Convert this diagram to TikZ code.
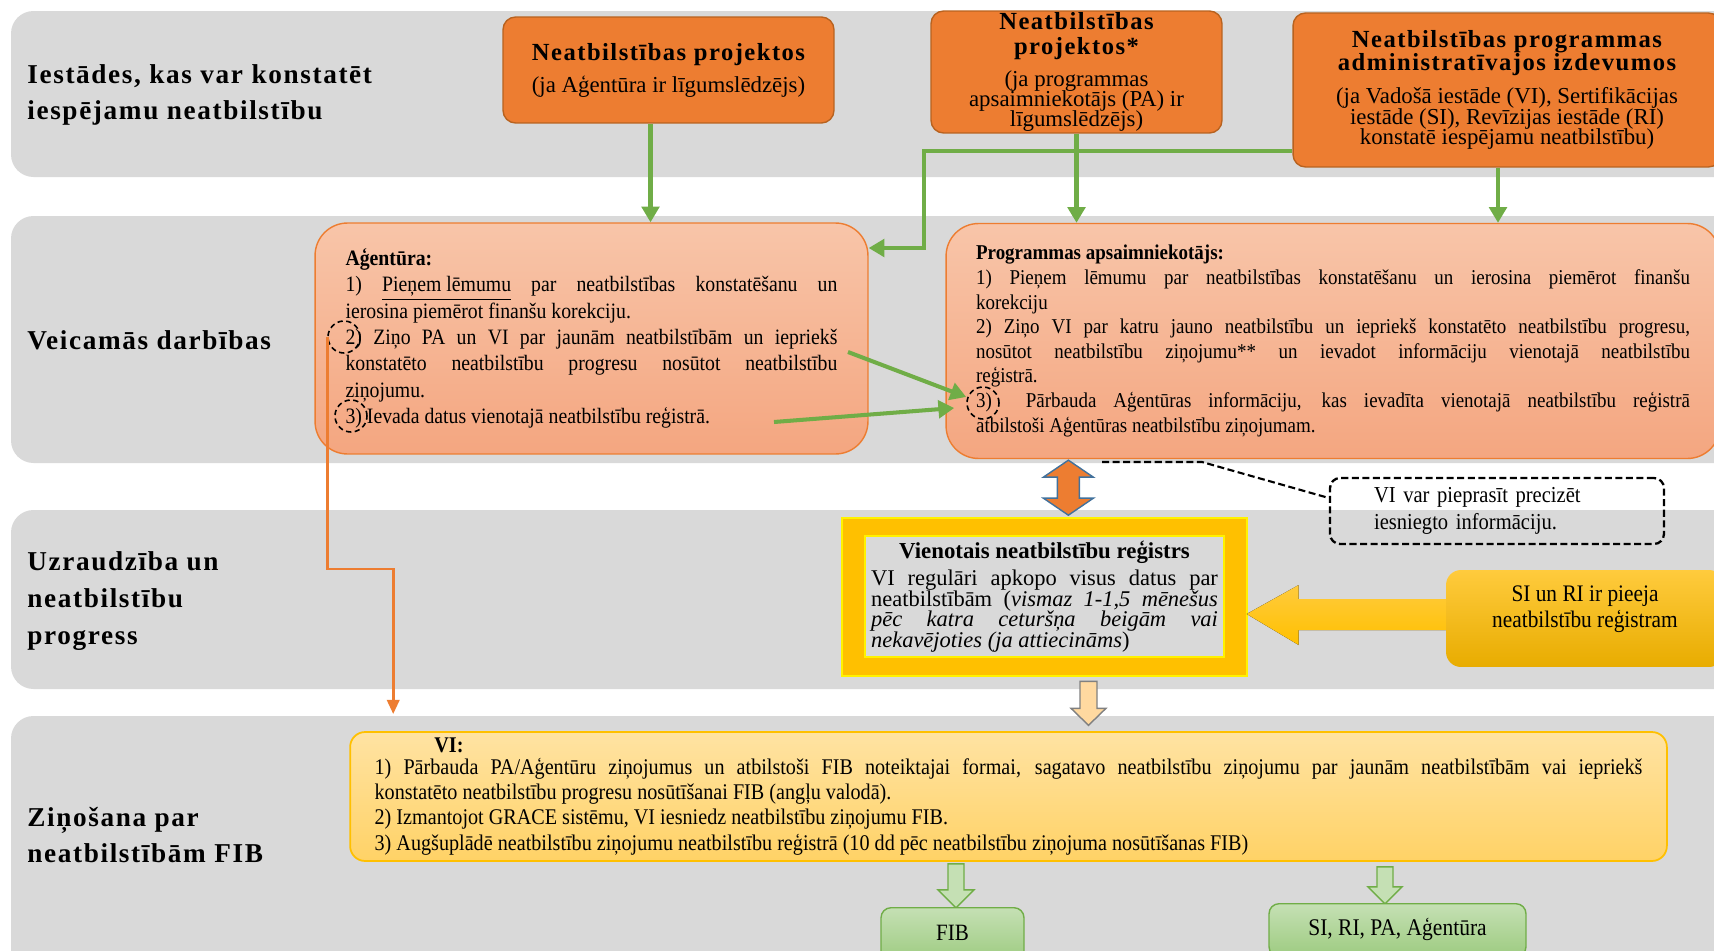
\documentclass[tikz,border=0pt]{standalone}
\usepackage{fontspec}
\setmainfont{Liberation Serif}
\newfontfamily\condfont[FakeStretch=0.9]{Liberation Serif}
\newfontfamily\widefont[LetterSpace=6]{Liberation Serif}
\usetikzlibrary{arrows.meta,calc}
\definecolor{lanegray}{HTML}{D9D9D9}
\definecolor{orng}{HTML}{ED7D31}
\definecolor{orngline}{HTML}{B8621F}
\definecolor{salmtop}{HTML}{F8C5A9}
\definecolor{salmbot}{HTML}{F4A680}
\definecolor{grn}{HTML}{70AD47}
\definecolor{grntop}{HTML}{C5E0B4}
\definecolor{grnbot}{HTML}{9DCB80}
\definecolor{gold}{HTML}{FFC000}
\definecolor{goldtop}{HTML}{FFCB3D}
\definecolor{goldbot}{HTML}{E8AC00}
\definecolor{vitop}{HTML}{FFE3A3}
\definecolor{vibot}{HTML}{FFD266}
\definecolor{paleor}{HTML}{FFD9A0}
\definecolor{blu}{HTML}{41719C}
\hyphenpenalty=10000
\exhyphenpenalty=10000
\tolerance=9999
\lineskiplimit=-20pt

\begin{document}
\begin{tikzpicture}[x=0.02cm,y=-0.02cm,
  lane/.style={fill=lanegray,rounded corners=0.45cm},
  lanelbl/.style={anchor=west,align=left,inner sep=0pt,font=\widefont\bfseries\fontsize{15.5}{21}\selectfont},
  srcbox/.style={fill=orng,draw=orngline,line width=0.8pt,rounded corners=0.25cm,align=center,inner sep=0pt,font=\fontsize{13}{11.5}\selectfont},
  actbox/.style={draw=orng,line width=0.8pt,top color=salmtop,bottom color=salmbot,rounded corners=0.65cm,inner sep=0pt,align=justify},
  garrow/.style={draw=grn,line width=2.3pt,-{Triangle[length=9pt,width=10pt]}},
  ring/.style={circle,draw,dash pattern=on 3pt off 2pt,line width=0.9pt,minimum size=0.64cm,inner sep=0pt},
  barrow/.style={line width=0.8pt,line join=miter}]
\useasboundingbox (0,0) rectangle (1714,950);
\clip (0,0) rectangle (1714,950);
% lanes
\fill[lane] (11,11) rectangle (1760,177);
\fill[lane] (11,216) rectangle (1760,463);
\fill[lane] (11,510) rectangle (1760,689);
\fill[lane] (11,716) rectangle (1760,990);
\node[lanelbl] (l1) at (27,95) {Iestādes, kas var konstatēt\\iespējamu neatbilstību};
\node[lanelbl] (l2) at (27,340) {Veicamās darbības};
\node[lanelbl] (l3) at (27,601) {Uzraudzība un\\neatbilstību\\progress};
\node[lanelbl] (l4) at (27,835) {Ziņošana par\\neatbilstībām FIB};
% sources
\node[srcbox,minimum width=6.62cm,minimum height=2.12cm] (a) at (668.5,70) {{\widefont\bfseries\fontsize{14}{14}\selectfont Neatbilstības projektos}\\[6.7pt]
  (ja Aģentūra ir līgumslēdzējs)};
\node[srcbox,minimum width=5.82cm,minimum height=2.44cm] (b) at (1076.5,72) {{\widefont\bfseries\fontsize{14}{14}\selectfont Neatbilstības}\\[2.7pt]
  {\widefont\bfseries\fontsize{14}{14}\selectfont projektos*}\\[6.7pt]
  (ja programmas\\apsaimniekotājs (PA) ir\\līgumslēdzējs)};
\node[srcbox,minimum width=8.56cm,minimum height=3.08cm] (c) at (1507,90) {{\widefont\bfseries\fontsize{14}{14}\selectfont Neatbilstības programmas}\\[1.5pt]
  {\widefont\bfseries\fontsize{14}{14}\selectfont administratīvajos izdevumos}\\[7.3pt]
  (ja Vadošā iestāde (VI), Sertifikācijas\\iestāde (SI), Revīzijas iestāde (RI)\\konstatē iespējamu neatbilstību)};
% actions
\node[actbox,minimum width=11.06cm,minimum height=4.62cm,text width=9.84cm,font=\condfont\fontsize{12.5}{15}\selectfont] (agt) at (591.5,338.5) {\textbf{Aģentūra:}\\
  1) \underline{Pieņem lēmumu} par neatbilstības konstatēšanu un\linebreak ierosina piemērot finanšu korekciju.\\
  2) Ziņo PA un VI par jaunām neatbilstībām un iepriekš\linebreak konstatēto neatbilstību progresu nosūtot neatbilstību\linebreak ziņojumu.\\
  3) Ievada datus vienotajā neatbilstību reģistrā.};
\node[actbox,minimum width=15.48cm,minimum height=4.7cm,text width=14.28cm,font=\condfont\fontsize{12}{14}\selectfont] (prog) at (1333,341) {\textbf{Programmas apsaimniekotājs:}\\
  1) Pieņem lēmumu par neatbilstības konstatēšanu un ierosina piemērot finanšu\linebreak korekciju\\
  2) Ziņo VI par katru jauno neatbilstību un iepriekš konstatēto neatbilstību progresu,\linebreak nosūtot neatbilstību ziņojumu** un ievadot informāciju vienotajā neatbilstību\linebreak reģistrā.\\
  3) \ Pārbauda Aģentūras informāciju, kas ievadīta vienotajā neatbilstību reģistrā\linebreak atbilstoši Aģentūras neatbilstību ziņojumam.};
\node[ring] (c2) at (344,337) {};
\node[ring] (c3) at (351,416) {};
\node[ring] (p3) at (983,403) {};
% connectors from sources
\draw[garrow] ($(a.south)+(-18,0)$) coordinate (a1) -- (a1 |- agt.north);
\draw[garrow] (b.south) -- (b.south |- prog.north);
\draw[garrow] ($(c.south)+(-9,0)$) coordinate (c1) -- (c1 |- prog.north);
\draw[garrow] ($(c.west)+(0,61)$) -- ++(-368,0) |- ($(agt.east)+(0,-90.5)$);
\coordinate (s1) at (848,352);
\coordinate (s2) at (774,422);
\draw[garrow] (s1) -- ($(p3.west)+(0,-6)$);
\draw[garrow] (s2) -- ($(p3.west)+(-12,5)$);
\draw[draw=orng,line width=1.5pt,-{Triangle[length=8pt,width=7pt]}] (c2.west) -- ++(0,232) -| ($(c2.west)+(66,377)$);
% monitoring
\node[draw,dash pattern=on 4pt off 2pt,line width=1.3pt,rounded corners=0.2cm,minimum height=1.32cm,text width=4.92cm,inner xsep=0.88cm,inner ysep=0pt,align=left,font=\condfont\fontsize{13}{15}\selectfont] (note) at (1497,511) {VI var pieprasīt precizēt\\iesniegto informāciju.};
\coordinate (d0) at (1102,462);
\draw[dash pattern=on 4pt off 2pt,line width=1.2pt] (d0) -- ++(100,0) -- ($(note.west)+(0,-13)$);
\node[fill=gold,draw=yellow,line width=1.5pt,minimum width=8.1cm,minimum height=3.16cm] (reg) at (1044.5,597) {};
\node[fill=lanegray,draw=yellow,line width=1.2pt,minimum width=7.18cm,minimum height=2.42cm,text width=6.94cm,align=justify,inner sep=0pt,font=\fontsize{12.8}{11.8}\selectfont] (regtxt) at (1044.5,596.5) {{\centering\bfseries\fontsize{13}{12}\selectfont Vienotais neatbilstību reģistrs\par}\vspace{3.6pt}
  VI regulāri apkopo visus datus par\linebreak neatbilstībām (\textit{vismaz 1-1,5 mēnešus}\linebreak \textit{pēc katra ceturšņa beigām vai}\linebreak \textit{nekavējoties (ja attiecināms})};
\draw[barrow,fill=orng,draw=blu] ($(prog.south west)+(123,1)$) -- ++(25,17) -- ++(-14,0) -- ++(0,21) -- ++(14,0) -- ++(-25,17) -- ++(-25,-17) -- ++(14,0) -- ++(0,-21) -- ++(-14,0) -- cycle;
\node[minimum width=5.56cm,minimum height=1.94cm] (si) at (1585,618.5) {};
\fill[top color=goldtop,bottom color=gold] ($(si.west)+(14,-19.5)$) -- ++(-161,0) -- ++(0,-14) -- ++(-52,29) -- ++(52,31) -- ++(0,-15) -- ++(161,0) -- cycle;
\node[top color=goldtop,bottom color=goldbot,rounded corners=0.3cm,minimum width=5.56cm,minimum height=1.94cm,align=center,font=\condfont\fontsize{13.5}{14.8}\selectfont] (si) at (1585,618.5) {SI un RI ir pieeja\\neatbilstību reģistram\\[-1pt]\mbox{}};
\draw[barrow,fill=paleor,draw=gray] ($(reg.south)+(35.5,4)$) -- ++(17,0) -- ++(0,27) -- ++(9,0) -- ++(-17.5,17) -- ++(-17.5,-17) -- ++(9,0) -- cycle;
% reporting
\node[draw=gold,line width=1pt,top color=vitop,bottom color=vibot,rounded corners=0.3cm,minimum width=26.34cm,minimum height=2.58cm,text width=25.36cm,align=justify,inner sep=0pt,font=\condfont\fontsize{12.75}{14.4}\selectfont] (vi) at (1008.5,796.5) {\hspace*{34pt}\textbf{VI:}\\[-2pt]
  1) Pārbauda PA/Aģentūru ziņojumus un atbilstoši FIB noteiktajai formai, sagatavo neatbilstību ziņojumu par jaunām neatbilstībām vai iepriekš\linebreak konstatēto neatbilstību progresu nosūtīšanai FIB (angļu valodā).\\
  2) Izmantojot GRACE sistēmu, VI iesniedz neatbilstību ziņojumu FIB.\\
  3) Augšuplādē neatbilstību ziņojumu neatbilstību reģistrā (10 dd pēc neatbilstību ziņojuma nosūtīšanas FIB)};
\draw[barrow,fill=grntop,draw=grn] ($(vi.south)+(-60.5,2)$) -- ++(16,0) -- ++(0,26) -- ++(10,0) -- ++(-18,18) -- ++(-18,-18) -- ++(10,0) -- cycle;
\draw[barrow,fill=grntop,draw=grn] ($(vi.south)+(368.5,5)$) -- ++(16,0) -- ++(0,20) -- ++(9,0) -- ++(-17,17) -- ++(-17,-17) -- ++(9,0) -- cycle;
\node[draw=grn,line width=0.8pt,top color=grntop,bottom color=grnbot,rounded corners=0.2cm,anchor=north,minimum width=2.86cm,inner sep=0pt,text height=18.7pt,text depth=12pt,font=\condfont\fontsize{13.3}{14}\selectfont] (fib) at (952.5,907) {FIB};
\node[draw=grn,line width=0.8pt,top color=grntop,bottom color=grnbot,rounded corners=0.2cm,anchor=north,minimum width=5.14cm,inner sep=0pt,text height=18.2pt,text depth=12pt,font=\condfont\fontsize{13.6}{14}\selectfont] (dest) at (1397.5,903) {SI, RI, PA, Aģentūra};
\end{tikzpicture}
\end{document}
